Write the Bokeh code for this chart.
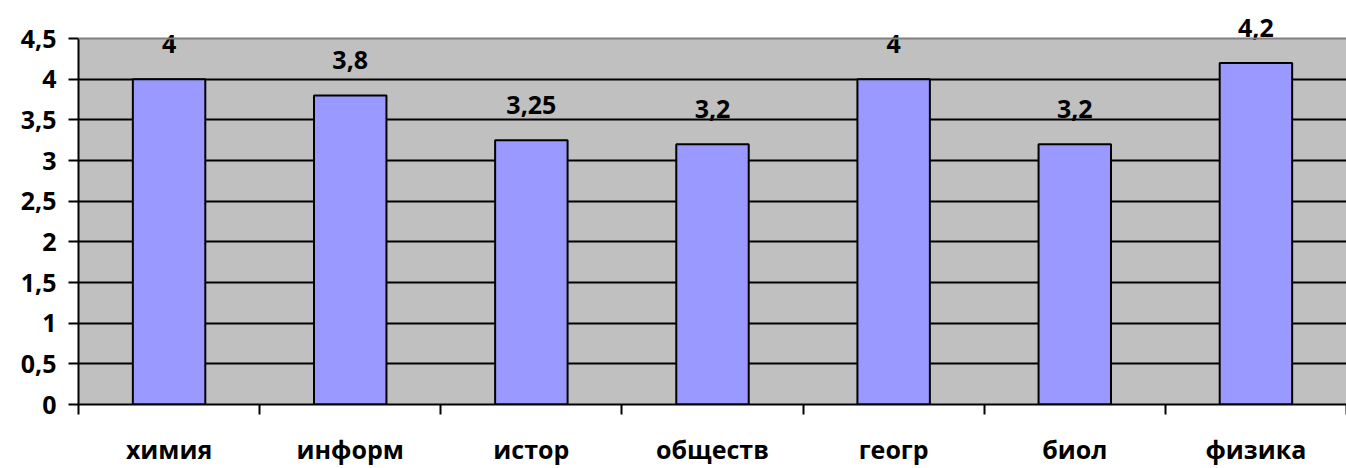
from bokeh.plotting import figure
from bokeh.models import ColumnDataSource, FixedTicker, Span, BoxAnnotation
from bokeh.embed import file_html
from bokeh.resources import INLINE
from bokeh.core.properties import value

categories = ["химия", "информ", "истор", "обществ", "геогр", "биол", "физика"]
scores = [4, 3.8, 3.25, 3.2, 4, 3.2, 4.2]
y_ticks = [0, 0.5, 1, 1.5, 2, 2.5, 3, 3.5, 4, 4.5]
y_max = 4.5

def fmt(v):
    return ("%g" % v).replace(".", ",")

xs = [i + 0.5 for i in range(len(categories))]
src = ColumnDataSource(dict(x=xs, top=scores, lab=[fmt(v) for v in scores]))

FONT = "Open Sans"
FS = "25px"

# plot area: value 0 at 404px, value 4.5 at 38px; frame starts at the top of the page
H, BOTTOM, TOP_PX = 468, 64, 38
frame_h = H - BOTTOM
y_end = y_max * frame_h / (frame_h - TOP_PX)

p = figure(width=1346, height=H, x_range=(0, len(categories)), y_range=(0, y_end),
           output_backend="svg", toolbar_location=None,
           min_border_left=78, min_border_right=0, min_border_top=0, min_border_bottom=BOTTOM)
p.background_fill_color = "white"
p.border_fill_color = "white"
p.outline_line_color = None

p.add_layout(BoxAnnotation(bottom=0, top=y_max, fill_color="#C0C0C0", fill_alpha=1.0,
                           line_color=None, level="image"))
p.add_layout(Span(location=y_max, dimension="width", line_color="#808080", line_width=2))

p.vbar(x="x", top="top", width=0.40, bottom=0, source=src,
       fill_color="#9999FF", line_color="black", line_width=2)

p.text(x="x", y="top", text="lab", source=src, text_align="center", text_baseline="bottom",
       y_offset=-26, text_font=value(FONT), text_font_style="bold", text_font_size=FS,
       text_color="black")

# y axis
p.yaxis.bounds = (0, y_max)
p.yaxis.ticker = FixedTicker(ticks=y_ticks)
p.yaxis.major_label_overrides = {t: fmt(t) for t in y_ticks}
p.yaxis.minor_tick_line_color = None
p.yaxis.major_tick_out = 10
p.yaxis.major_tick_in = 0
p.yaxis.major_tick_line_width = 2
p.yaxis.axis_line_width = 2
p.yaxis.major_label_standoff = 12
p.yaxis.major_label_text_font = FONT
p.yaxis.major_label_text_font_style = "bold"
p.yaxis.major_label_text_font_size = FS
p.yaxis.major_label_text_color = "black"

# x axis: category labels at centres, ticks at boundaries
p.xaxis.ticker = FixedTicker(ticks=xs, minor_ticks=list(range(len(categories) + 1)))
p.xaxis.major_label_overrides = {x: c for x, c in zip(xs, categories)}
p.xaxis.major_tick_out = 0
p.xaxis.major_tick_in = 0
p.xaxis.minor_tick_out = 10
p.xaxis.minor_tick_in = 0
p.xaxis.minor_tick_line_width = 2
p.xaxis.minor_tick_line_color = "black"
p.xaxis.axis_line_width = 2
p.xaxis.major_label_standoff = 17
p.xaxis.major_label_text_font = FONT
p.xaxis.major_label_text_font_style = "bold"
p.xaxis.major_label_text_font_size = FS
p.xaxis.major_label_text_color = "black"

p.xgrid.grid_line_color = None
p.ygrid.ticker = FixedTicker(ticks=[0.5, 1, 1.5, 2, 2.5, 3, 3.5, 4])
p.ygrid.grid_line_color = "black"
p.ygrid.grid_line_width = 2
p.ygrid.grid_line_alpha = 1.0

open("out.html", "w").write(file_html(p, INLINE))
